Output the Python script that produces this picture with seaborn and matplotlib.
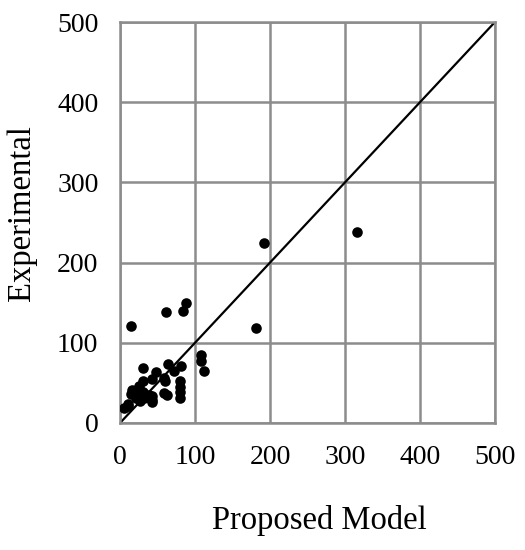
import matplotlib
matplotlib.use("Agg")
import matplotlib.pyplot as plt
import pandas as pd
import seaborn as sns

# proposed model prediction vs experimental value
proposed = [316, 192, 181, 15, 61, 84, 88, 108, 108, 112, 30, 48, 64, 81, 72,
            59, 60, 42, 80, 80, 80, 80, 59, 63, 42, 42, 43, 30, 25, 16, 14,
            23, 28, 32, 30, 21, 10, 5, 38, 11, 27]
experimental = [238, 224, 118, 121, 138, 140, 150, 85, 77, 65, 69, 64, 74, 71, 65,
                56, 52, 55, 52, 45, 39, 31, 37, 35, 34, 26, 29, 52, 46, 41, 36,
                37, 33, 31, 39, 31, 24, 19, 35, 21, 28]
ticks = [0, 100, 200, 300, 400, 500]
identity = [0, 500]

df = pd.DataFrame({"Proposed Model": proposed, "Experimental": experimental})

sns.set_theme(style="white")
plt.rcParams["font.family"] = ["Liberation Serif", "DejaVu Serif"]

fig = plt.figure(figsize=(5.25, 5.5), dpi=100)
ax = fig.add_axes([120 / 525, 1 - 423 / 550, 375 / 525, 401 / 550])

sns.lineplot(x=identity, y=identity, ax=ax, color="black", linewidth=1.6)
sns.scatterplot(data=df, x="Proposed Model", y="Experimental", ax=ax,
                color="black", s=58, edgecolor="black", linewidth=0, zorder=3)

ax.set_xlim(0, 500)
ax.set_ylim(0, 500)
ax.set_xticks(ticks)
ax.set_yticks(ticks)
ax.grid(True, color="#8c8c8c", linewidth=1.8)
ax.set_axisbelow(True)
for spine in ax.spines.values():
    spine.set_color("#8c8c8c")
    spine.set_linewidth(1.8)
ax.tick_params(axis="both", length=6.5, width=1.8, color="#8c8c8c",
               labelsize=20, colors="#8c8c8c", labelcolor="black", pad=9)
ax.set_xlabel("Proposed Model", fontsize=23.5, color="black")
ax.set_ylabel("Experimental", fontsize=23.5, color="black")
ax.xaxis.set_label_coords(0.533, -0.242)
ax.xaxis.label.set_va("center")
ax.yaxis.set_label_coords(-0.261, 0.523)
ax.yaxis.label.set_va("center")

fig.savefig("out.png", dpi=100)
